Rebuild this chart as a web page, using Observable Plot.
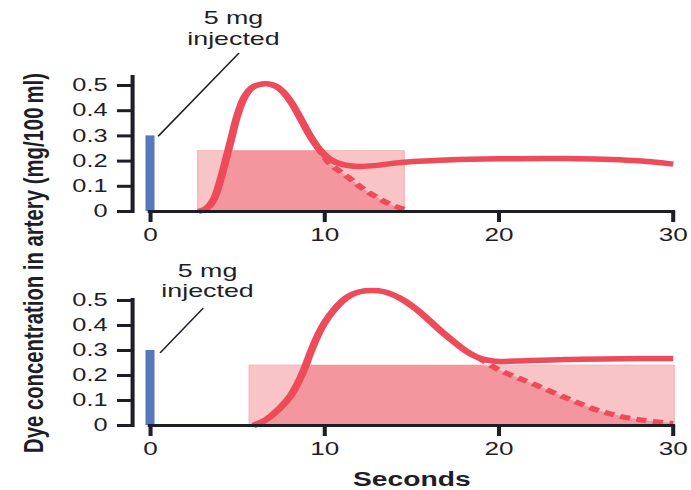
<!DOCTYPE html>
<html>
<head>
<meta charset="utf-8">
<script src="https://cdn.jsdelivr.net/npm/d3@7"></script>
<script src="https://cdn.jsdelivr.net/npm/@observablehq/plot@0.6"></script>
<style>
  html, body { margin: 0; padding: 0; background: #fff; }
  #wrap { position: relative; width: 477px; height: 490px; transform: scaleX(1.449); transform-origin: 0 0; }
  #wrap svg { position: absolute; left: 0; }
</style>
</head>
<body>
<div id="wrap"></div>
<script>
// ---------- data ----------
const xTicks = [0, 10, 20, 30];
const yTicks = [0, 0.1, 0.2, 0.3, 0.4, 0.5];
const yLabel = "Dye concentration in artery (mg/100\u2009ml)";
const xLabel = "Seconds";
const injectLabel = "5 mg\ninjected";

// dye injected at t = 0
const injection = [{t: 0, v: 0.3}];

// panel 1 (top): measured curve [seconds, mg/100ml]
const topCurve = [
  [2.75, 0], [3.2, 0.012], [3.6, 0.044], [4.0, 0.123], [4.3, 0.2], [4.6, 0.28],
  [5.0, 0.385], [5.4, 0.455], [5.8, 0.49], [6.2, 0.503], [6.7, 0.507], [7.2, 0.497],
  [7.6, 0.475], [8.1, 0.43], [8.6, 0.37], [9.2, 0.295], [9.75, 0.242], [10.3, 0.207],
  [11.0, 0.187], [12.0, 0.179], [13.0, 0.183], [14.3, 0.194], [17.0, 0.204],
  [20.0, 0.209], [23.8, 0.21], [27.7, 0.202], [30.0, 0.188]
];
// panel 1: extrapolated fall (dashed)
const topDashed = [
  [9.6, 0.255], [10.3, 0.19], [11.5, 0.128], [12.2, 0.09], [13.0, 0.056],
  [13.7, 0.03], [14.6, 0.008]
];
// panel 1: equal-area rectangle
const topRect = [{t1: 2.75, t2: 14.6, v: 0.24}];

// panel 2 (bottom)
const botCurve = [
  [5.9, 0], [6.5, 0.018], [7.05, 0.046], [7.5, 0.075], [8.0, 0.115], [8.4, 0.162],
  [8.8, 0.222], [9.2, 0.295], [9.6, 0.36], [10.0, 0.412], [10.5, 0.46], [11.0, 0.497],
  [11.5, 0.522], [12.0, 0.535], [12.7, 0.54], [13.4, 0.535], [14.3, 0.51],
  [15.2, 0.468], [16.0, 0.42], [16.8, 0.37], [17.5, 0.33], [18.1, 0.298],
  [18.7, 0.275], [19.3, 0.262], [20.0, 0.256], [21.0, 0.258], [23.8, 0.264],
  [27.0, 0.267], [30.0, 0.268]
];
const botDashed = [
  [18.8, 0.272], [20.0, 0.222], [21.0, 0.193], [21.9, 0.168], [23.8, 0.112],
  [25.7, 0.06], [27.6, 0.028], [30.0, 0.008]
];
const botRect = [{t1: 5.7, t2: 30.1, v: 0.24}];

// annotations
const topNote = [{t: 4.76, v: 0.73, text: injectLabel}];
const topLeader = [[0.46, 0.30], [5.05, 0.627]];
const botNote = [{t: 3.27, v: 0.58, text: injectLabel}];
const botLeader = [[0.57, 0.292], [3.0, 0.468]];

// ---------- styles ----------
const FONT = "'Liberation Sans', Arial, Helvetica, sans-serif";
const INK = "#1e1e28";
const RED = "#ee4b5a";
const LIGHT = "#f9c4c6";
const DARK = "#f4969d";
const BLUE = "#5878bd";
const W = 477;

function panel({curve, dashed, rect, note, leader, mt, mb, axisTop, showXLabel}) {
  const under = curve.filter(d => d[0] < dashed[0][0]).concat(dashed);
  const cap = rect[0].v;
  const marks = [
    Plot.rect(rect, {x1: "t1", x2: "t2", y1: 0, y2: "v", fill: LIGHT, stroke: "#f6b2b6", strokeWidth: 0.8}),
    Plot.areaY(under, {x: d => d[0], y: d => Math.min(d[1], cap), fill: DARK, curve: "monotone-x"}),
    Plot.line(dashed, {x: d => d[0], y: d => d[1], stroke: RED, strokeWidth: 5, strokeDasharray: "7,4.5", curve: "catmull-rom", strokeLinecap: "butt"}),
    Plot.line(curve, {x: d => d[0], y: d => d[1], stroke: RED, strokeWidth: 5.5, curve: "catmull-rom", strokeLinecap: "butt"}),
    Plot.rect(injection, {x1: d => d.t - 0.25, x2: d => d.t + 0.27, y1: 0, y2: "v", fill: BLUE}),
    Plot.line(leader, {x: d => d[0], y: d => d[1], stroke: INK, strokeWidth: 1.3}),
    Plot.text(note, {x: "t", y: "v", text: "text", fontSize: 18.5, lineHeight: 1.12, fill: INK, textAnchor: "middle", lineAnchor: "middle"}),
    Plot.ruleY([0], {x1: -0.12, x2: 30.15, stroke: INK, strokeWidth: 3}),
    Plot.ruleX([0], {y1: -0.008, y2: axisTop, dx: -12.4, stroke: INK, strokeWidth: 2.8}),
    Plot.axisX({ticks: xTicks, tickSize: 11, tickPadding: 6, fontSize: 18, stroke: INK, strokeWidth: 2.8, fill: INK, label: null}),
    Plot.axisY({ticks: yTicks, tickFormat: d => d === 0 ? "0" : d.toFixed(1), tickSize: 10.3, tickPadding: 7, dx: -12.4, fontSize: 17.5, stroke: INK, strokeWidth: 3, fill: INK, label: null})
  ];
  if (showXLabel) {
    marks.push(Plot.text([xLabel], {frameAnchor: "bottom", dy: 54, text: d => d, fontSize: 19.5, fontWeight: "bold", fill: INK, lineAnchor: "middle"}));
  }
  return Plot.plot({
    width: W,
    height: 245,
    marginLeft: 103.4,
    marginRight: 12.9,
    marginTop: mt,
    marginBottom: mb,
    x: {domain: [0, 30], axis: null},
    y: {domain: [0, 0.5], axis: null},
    style: {fontFamily: FONT, background: "transparent", overflow: "visible", color: INK},
    marks
  });
}

const wrap = document.getElementById("wrap");

const p1 = panel({curve: topCurve, dashed: topDashed, rect: topRect, note: topNote, leader: topLeader, mt: 85, mb: 34, axisTop: 0.54, showXLabel: false});
p1.style.top = "0px";
wrap.appendChild(p1);

const p2 = panel({curve: botCurve, dashed: botDashed, rect: botRect, note: botNote, leader: botLeader, mt: 55, mb: 65, axisTop: 0.508, showXLabel: true});
p2.style.top = "245px";
wrap.appendChild(p2);

// shared y-axis title
const ov = d3.create("svg")
  .attr("width", W).attr("height", 490)
  .style("top", "0px").style("overflow", "visible");
ov.append("text")
  .attr("transform", "translate(30,263) rotate(-90)")
  .attr("text-anchor", "middle")
  .attr("font-family", FONT)
  .attr("font-size", 19.5)
  .attr("font-weight", "bold")
  .attr("fill", INK)
  .attr("textLength", 380)
  .attr("lengthAdjust", "spacingAndGlyphs")
  .text(yLabel);
wrap.appendChild(ov.node());
</script>
</body>
</html>
